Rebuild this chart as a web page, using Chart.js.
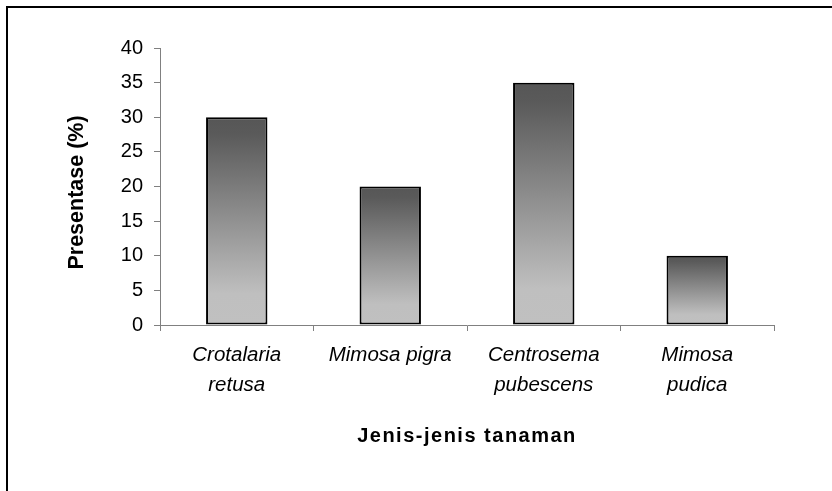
<!DOCTYPE html>
<html>
<head>
<meta charset="utf-8">
<script src="https://cdn.jsdelivr.net/npm/chart.js@4/dist/chart.umd.min.js"></script>
<style>
  html, body { margin: 0; padding: 0; background: #fff; overflow: hidden; }
  #wrap { position: relative; width: 832px; height: 491px; }
</style>
</head>
<body>
<div id="wrap"><canvas id="c" width="832" height="491"></canvas></div>
<script>
const categories = [["Crotalaria", "retusa"], "Mimosa pigra", ["Centrosema", "pubescens"], ["Mimosa", "pudica"]];
const percentages = [30, 20, 35, 10];
const yTicks = [0, 5, 10, 15, 20, 25, 30, 35, 40];
const yTitle = "Presentase (%)";
const xTitle = "Jenis-jenis tanaman";

const FONT = "'Liberation Sans', Arial, sans-serif";

const framePlugin = {
  id: 'frame',
  beforeDraw(chart) {
    const ctx = chart.ctx;
    ctx.save();
    ctx.fillStyle = '#ffffff';
    ctx.fillRect(0, 0, chart.width, chart.height);
    ctx.strokeStyle = '#000000';
    ctx.lineWidth = 2;
    ctx.strokeRect(7, 7, 2000, 2000);
    ctx.restore();
  },
  afterLayout(chart) {
    const xs = chart.scales.x, ys = chart.scales.y;
    if (xs && !xs._patchedTitle) {
      const orig = xs.drawTitle;
      xs.drawTitle = function () {
        const ctx = this.ctx;
        ctx.save();
        if ('letterSpacing' in ctx) ctx.letterSpacing = '1.5px';
        orig.call(this);
        ctx.restore();
      };
      xs._patchedTitle = true;
    }
    if (ys && !ys._patchedTitle) {
      const orig = ys.drawTitle;
      ys.drawTitle = function () {
        const ctx = this.ctx;
        ctx.save();
        ctx.translate(0, 6);
        orig.call(this);
        ctx.restore();
      };
      ys._patchedTitle = true;
    }
  }
};

function barGradient(context) {
  const chart = context.chart;
  if (!chart.chartArea || !chart.scales.y) return '#8c8c8c';
  const y = chart.scales.y;
  const top = y.getPixelForValue(context.raw);
  const base = y.getPixelForValue(0);
  if (!isFinite(top) || !isFinite(base) || top === base) return '#8c8c8c';
  const g = chart.ctx.createLinearGradient(0, top, 0, base);
  g.addColorStop(0, '#565656');
  g.addColorStop(0.08, '#5a5a5a');
  g.addColorStop(0.85, '#bfbfbf');
  g.addColorStop(1, '#c0c0c0');
  return g;
}

new Chart(document.getElementById('c'), {
  type: 'bar',
  data: {
    labels: categories,
    datasets: [{
      data: percentages,
      backgroundColor: barGradient,
      borderColor: '#000000',
      borderWidth: 2,
      borderSkipped: false,
      barPercentage: 0.4,
      categoryPercentage: 1.0
    }]
  },
  plugins: [framePlugin],
  options: {
    responsive: false,
    animation: false,
    events: [],
    layout: { padding: { top: 48, right: 58, left: 0, bottom: 0 } },
    plugins: { legend: { display: false }, tooltip: { enabled: false } },
    scales: {
      x: {
        offset: true,
        grid: {
          display: true,
          offset: true,
          drawOnChartArea: false,
          drawTicks: true,
          tickLength: 6,
          color: '#808080',
          tickColor: '#808080',
          lineWidth: 1
        },
        border: { display: true, color: '#808080', width: 1 },
        ticks: {
          color: '#000000',
          font: { family: FONT, size: 20.5, style: 'italic', lineHeight: 1.46 },
          padding: 9,
          maxRotation: 0,
          minRotation: 0,
          autoSkip: false
        },
        title: {
          display: true,
          text: xTitle,
          color: '#000000',
          font: { family: FONT, size: 20, weight: 'bold', lineHeight: 1.2 },
          padding: { top: 0, bottom: 43 }
        },
        afterFit(scale) { scale.height = 166; }
      },
      y: {
        min: 0,
        max: 40,
        afterBuildTicks(scale) { scale.ticks = yTicks.map(v => ({ value: v })); },
        grid: {
          display: true,
          drawOnChartArea: false,
          drawTicks: true,
          tickLength: 6,
          color: '#808080',
          tickColor: '#808080',
          lineWidth: 1
        },
        border: { display: true, color: '#808080', width: 1 },
        ticks: {
          color: '#000000',
          font: { family: FONT, size: 20, lineHeight: 1.2 },
          padding: 11
        },
        title: {
          display: true,
          text: yTitle,
          color: '#000000',
          font: { family: FONT, size: 21.5, weight: 'bold', lineHeight: 1.2 },
          padding: { top: 64, bottom: 0 }
        },
        afterFit(scale) { scale.width = 160; }
      }
    }
  }
});
</script>
</body>
</html>
